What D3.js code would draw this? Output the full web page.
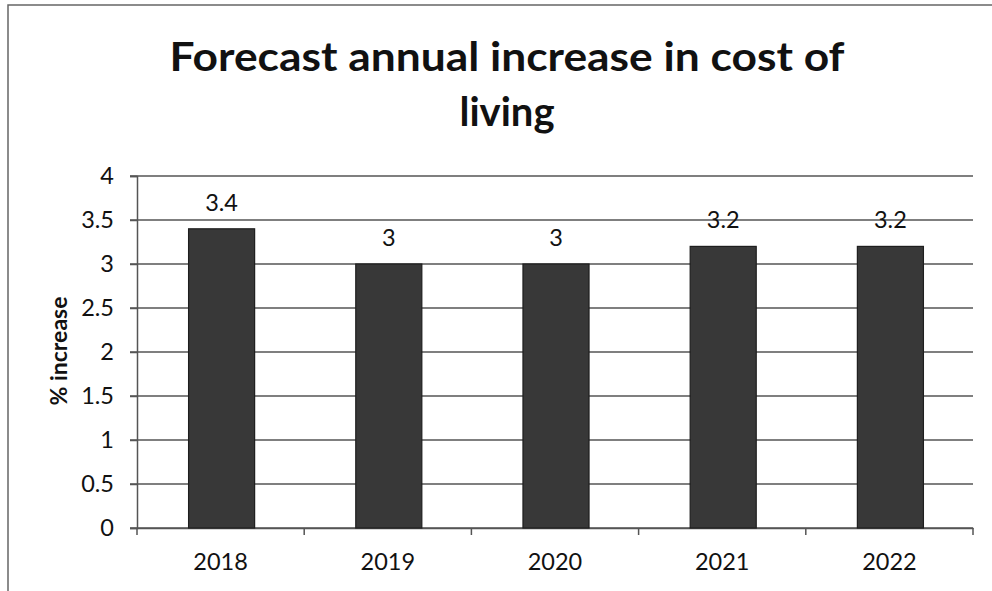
<!DOCTYPE html>
<html><head><meta charset="utf-8">
<script src="https://cdn.jsdelivr.net/npm/d3@7"></script>
<style>body{margin:0;background:#fff}svg{display:block}</style>
</head><body>
<script>
const categories = ["2018","2019","2020","2021","2022"];
const values = [3.4, 3, 3, 3.2, 3.2];
const yTicks = [0,0.5,1,1.5,2,2.5,3,3.5,4];
const titleLines = ["Forecast annual increase in cost of","living"];
const yLabel = "% increase";

const W=992,H=591;
const svg=d3.select("body").append("svg").attr("width",W).attr("height",H);
svg.append("rect").attr("width",W).attr("height",H).attr("fill","#fff");
// outer border
svg.append("path").attr("d","M8,591 L8,5 L992,5").attr("fill","none").attr("stroke","#666").attr("stroke-width",1.5);

const L=137,R=973,T=176,B=528;
const x=d3.scaleBand().domain(categories).range([L,R]).paddingInner(0.605).paddingOuter(0.3025);
const y=d3.scaleLinear().domain([0,4]).range([B,T]);
const font="Lato, 'Open Sans', sans-serif";

// gridlines
svg.append("g").selectAll("line").data(yTicks).join("line")
 .attr("x1",L-7).attr("x2",R).attr("y1",d=>y(d)).attr("y2",d=>y(d))
 .attr("stroke","#555").attr("stroke-width",1.5);

// y axis
const ya=svg.append("g").attr("transform",`translate(${L},0)`)
 .call(d3.axisLeft(y).tickValues(yTicks).tickSize(7).tickPadding(16).tickFormat(d3.format("")));
ya.select(".domain").attr("stroke","#555").attr("stroke-width",1.5);
ya.selectAll("line").attr("stroke","#555").attr("stroke-width",1.5);
ya.selectAll("text").attr("font-family",font).attr("font-size",23.5).attr("fill","#111");

// x axis
const xa=svg.append("g").attr("transform",`translate(0,${B})`)
 .call(d3.axisBottom(x).tickSize(0).tickPadding(25));
xa.select(".domain").attr("stroke","#555").attr("stroke-width",1.5);
xa.selectAll("text").attr("font-family",font).attr("font-size",23.5).attr("fill","#111");
// x boundary ticks
const step=(R-L)/categories.length;
const bounds=d3.range(categories.length+1).map(i=>L+i*step);
svg.append("g").selectAll("line").data(bounds).join("line")
 .attr("x1",d=>d).attr("x2",d=>d).attr("y1",B).attr("y2",B+7)
 .attr("stroke","#555").attr("stroke-width",1.5);

// bars
svg.append("g").selectAll("rect").data(values).join("rect")
 .attr("x",(d,i)=>x(categories[i])+1).attr("width",x.bandwidth())
 .attr("y",d=>y(d)).attr("height",d=>B-y(d))
 .attr("fill","#383838").attr("stroke","#1e1e1e").attr("stroke-width",1.2);

// data labels
svg.append("g").selectAll("text").data(values).join("text")
 .attr("x",(d,i)=>x(categories[i])+x.bandwidth()/2+1)
 .attr("y",d=>y(d)-18).attr("text-anchor","middle")
 .attr("font-family",font).attr("font-size",23.5).attr("fill","#111")
 .text(d=>d);

// title
svg.append("g").selectAll("text").data(titleLines).join("text")
 .attr("x",507).attr("y",(d,i)=>71+i*55).attr("text-anchor","middle")
 .attr("font-family",font).attr("font-weight","bold").attr("font-size",40).attr("fill","#111")
 .attr("textLength",(d,i)=>i===0?675:null).attr("lengthAdjust","spacingAndGlyphs")
 .text(d=>d);

// y label
svg.append("text").attr("transform","translate(67,351) rotate(-90)")
 .attr("text-anchor","middle").attr("font-family",font).attr("font-weight","bold")
 .attr("font-size",23).attr("fill","#111").text(yLabel);
</script>
</body></html>
